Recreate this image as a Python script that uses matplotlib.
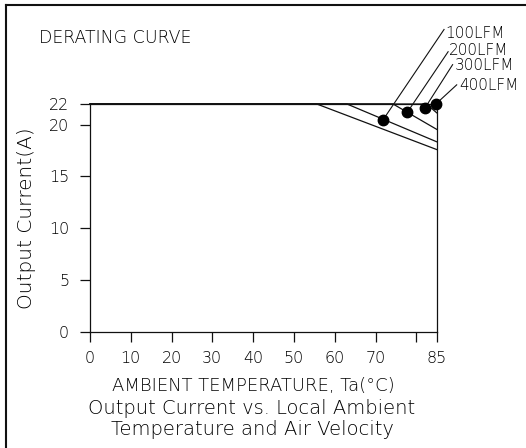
import matplotlib
matplotlib.use("Agg")
import matplotlib.pyplot as plt
from matplotlib.lines import Line2D

# ---- data ----
series_names = ["100LFM", "200LFM", "300LFM", "400LFM"]
knee_temp = [55.6, 63.0, 74.3, 82.5]        # °C where derating starts
end_current = [17.6, 18.35, 19.55, 21.15]   # A at 85 °C
max_current = 22.0
max_temp = 85.0

marker_temp = [71.9, 77.8, 82.1, 84.8]
marker_current = [20.5, 21.2, 21.6, 22.0]
leader_temp = [86.8, 87.8, 88.9, 89.9]
leader_current = [29.2, 27.05, 25.8, 23.85]
label_temp = [87.1, 88.1, 89.5, 90.5]
label_current = [28.8, 27.2, 25.7, 23.75]

xticks = [0, 10, 20, 30, 40, 50, 60, 70, 80, 85]
xtick_labels = ["0", "10", "20", "30", "40", "50", "60", "70", "", "85"]
yticks = [0, 5, 10, 15, 20, 22]
ytick_labels = ["0", "5", "10", "15", "20", "22"]

W, H = 526, 448
plt.rcParams["font.family"] = ["DejaVu Sans"]
plt.rcParams["font.weight"] = "light"
plt.rcParams["axes.labelweight"] = "light"
fig = plt.figure(figsize=(W / 100, H / 100), dpi=100)
ax = fig.add_axes([90 / W, 1 - 331.7 / H, (436.7 - 90) / W, (331.7 - 104) / H])

c = "#000000"
lc_ = "#111111"
for kt, ec in zip(knee_temp, end_current):
    ax.plot([0, kt, max_temp], [max_current, max_current, ec], color=lc_, lw=0.9, clip_on=False)

ax.plot(marker_temp, marker_current, "o", color="black", ms=7.5, clip_on=False, zorder=5)
for mt, mc, lt, lc, lx, ly, name in zip(marker_temp, marker_current, leader_temp, leader_current,
                                        label_temp, label_current, series_names):
    ax.plot([mt, lt], [mc, lc], color=lc_, lw=0.8, clip_on=False)
    ax.text(lx, ly, name, ha="left", va="center", fontsize=11, color=c, clip_on=False)

ax.set_xlim(0, max_temp)
ax.set_ylim(0, max_current)
ax.set_xticks(xticks)
ax.set_xticklabels(xtick_labels)
ax.set_yticks(yticks)
ax.set_yticklabels(ytick_labels)
ax.tick_params(direction="out", length=7, width=0.9, color=lc_, labelsize=11.5, labelcolor=c)
ax.tick_params(axis="x", pad=7)
ax.tick_params(axis="y", pad=8)
for s in ax.spines.values():
    s.set_linewidth(0.9)
    s.set_color(lc_)

ax.set_ylabel("Output Current(A)", fontsize=14.5, color=c, labelpad=9, fontweight="light")

fig.text(39 / W, 1 - 38 / H, "DERATING CURVE", fontsize=12.5, va="center", ha="left", color=c)
fig.text(253 / W, 1 - 386 / H, "AMBIENT TEMPERATURE, Ta(°C)", fontsize=13, ha="center", va="center", color=c)
fig.text(252 / W, 1 - 408 / H, "Output Current vs. Local Ambient", fontsize=14, ha="center", va="center", color=c)
fig.text(252 / W, 1 - 429 / H, "Temperature and Air Velocity", fontsize=14, ha="center", va="center", color=c)

# outer frame (left and top edges)
fig.add_artist(Line2D([6 / W, 6 / W], [0, 1 - 5 / H], color=lc_, lw=1.5))
fig.add_artist(Line2D([6 / W, 1], [1 - 5 / H, 1 - 5 / H], color=lc_, lw=1.5))

fig.savefig("out.png", dpi=100)
